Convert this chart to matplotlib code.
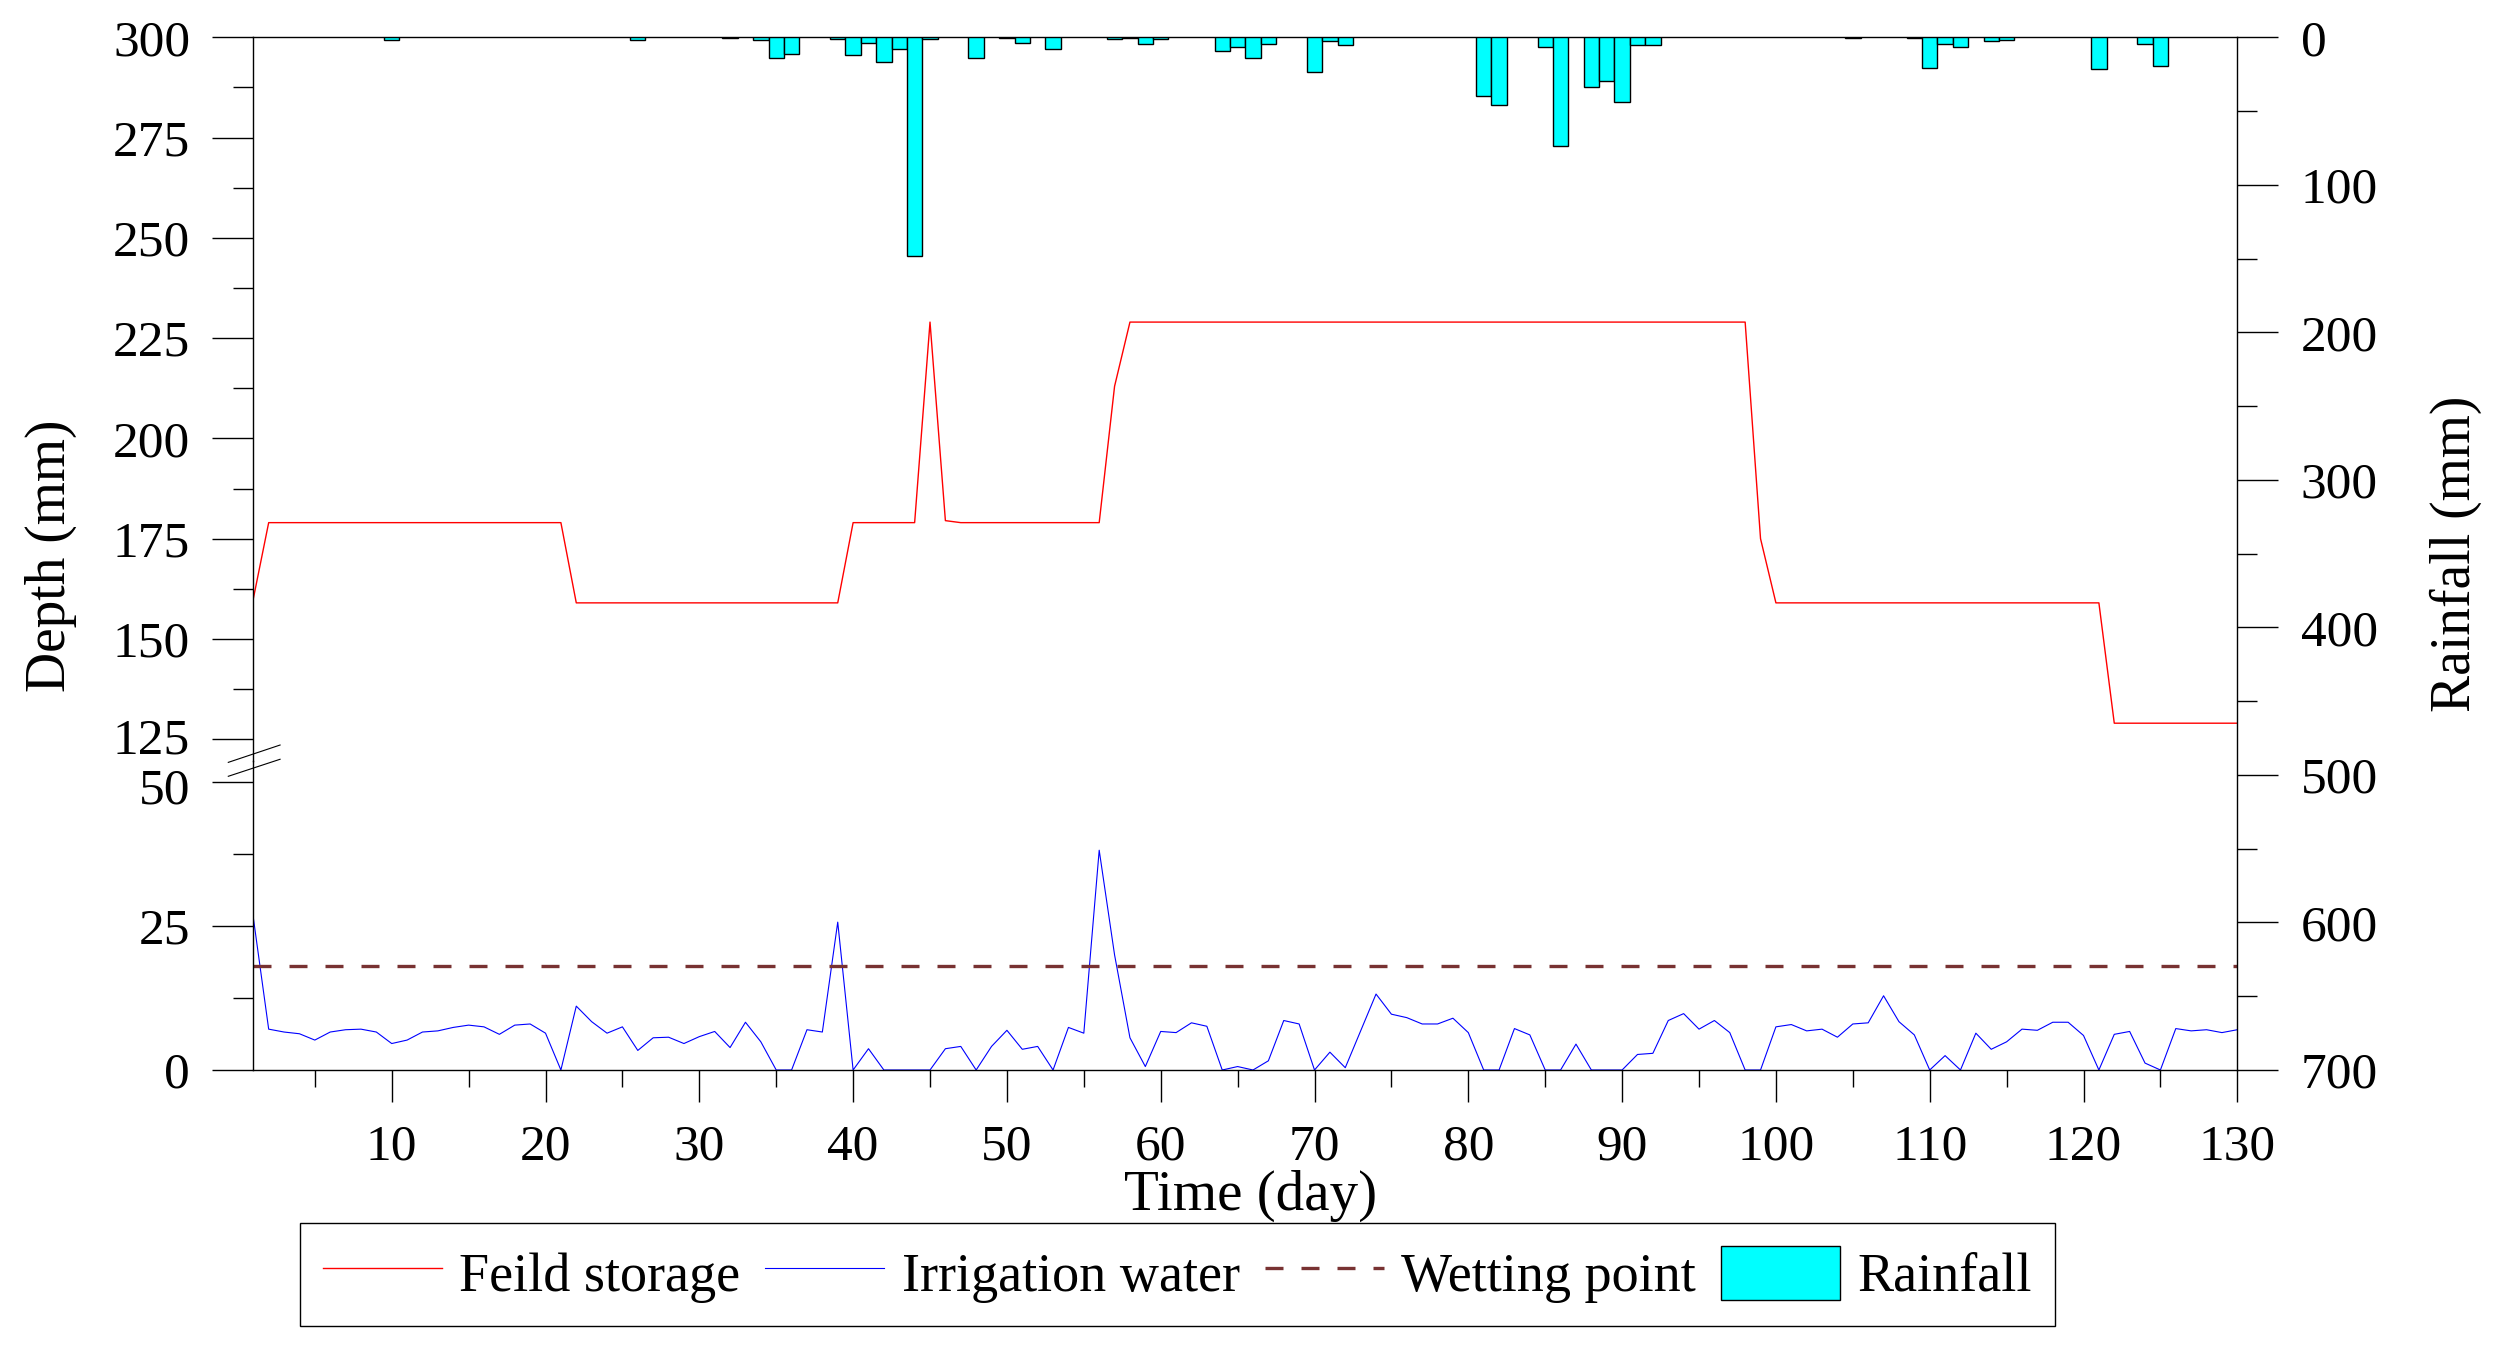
import matplotlib
matplotlib.use('Agg')
import matplotlib.pyplot as plt
import matplotlib.transforms as mtransforms
import numpy as np

plt.rcParams['font.family'] = ['Liberation Serif', 'DejaVu Serif']

# daily data, day 1 .. 130
days = np.arange(1, 131)

field_storage = [160, 179, 179, 179, 179, 179, 179, 179, 179, 179,
                 179, 179, 179, 179, 179, 179, 179, 179, 179, 179,
                 179, 159, 159, 159, 159, 159, 159, 159, 159, 159,
                 159, 159, 159, 159, 159, 159, 159, 159, 159, 179,
                 179, 179, 179, 179, 229, 179.5, 179, 179, 179, 179,
                 179, 179, 179, 179, 179, 179, 213, 229, 229, 229,
                 229, 229, 229, 229, 229, 229, 229, 229, 229, 229,
                 229, 229, 229, 229, 229, 229, 229, 229, 229, 229,
                 229, 229, 229, 229, 229, 229, 229, 229, 229, 229,
                 229, 229, 229, 229, 229, 229, 229, 229, 175, 159,
                 159, 159, 159, 159, 159, 159, 159, 159, 159, 159,
                 159, 159, 159, 159, 159, 159, 159, 159, 159, 159,
                 159, 129, 129, 129, 129, 129, 129, 129, 129, 129]

irrigation = [26.5, 7.1, 6.6, 6.3, 5.2, 6.6, 7.0, 7.1, 6.6, 4.6,
              5.2, 6.6, 6.8, 7.4, 7.8, 7.5, 6.2, 7.8, 8.0, 6.4,
              0, 11.1, 8.4, 6.4, 7.5, 3.4, 5.6, 5.7, 4.6, 5.8,
              6.7, 3.9, 8.3, 4.9, 0, 0, 7.0, 6.6, 25.7, 0,
              3.7, 0, 0, 0, 0, 3.7, 4.1, 0, 4.1, 6.9,
              3.6, 4.1, 0, 7.4, 6.4, 38.2, 20.0, 5.6, 0.6, 6.7,
              6.5, 8.2, 7.6, 0, 0.6, 0, 1.6, 8.6, 8.0, 0,
              3.1, 0.4, 6.8, 13.2, 9.7, 9.1, 8.0, 8.0, 9.0, 6.5,
              0, 0, 7.2, 6.1, 0, 0, 4.5, 0, 0, 0,
              2.7, 2.9, 8.6, 9.8, 7.1, 8.6, 6.5, 0, 0, 7.5,
              7.9, 6.8, 7.1, 5.7, 8.0, 8.2, 12.9, 8.4, 6.1, 0,
              2.5, 0, 6.4, 3.6, 4.9, 7.1, 6.9, 8.3, 8.3, 6.0,
              0, 6.2, 6.7, 1.2, 0, 7.2, 6.8, 7.0, 6.5, 7.0]

wetting_point = 18

rain_days = [10, 26, 32, 34, 35, 36, 39, 40, 41, 42, 43, 44, 45, 48, 50, 51,
             53, 57, 58, 59, 60, 64, 65, 66, 67, 70, 71, 72, 81, 82, 85, 86,
             88, 89, 90, 91, 92, 105, 109, 110, 111, 112, 114, 115, 121, 124, 125]
rain_mm = [2, 2, 0.8, 2, 13.7, 11.4, 1.3, 12.3, 4, 16.8, 8, 148, 1.3, 13.7, 0.8, 3.6,
           7.6, 1.3, 0.8, 4.3, 1.3, 9.6, 6.3, 13.7, 4.3, 23.6, 2.2, 4.9, 40, 46, 6.3, 74,
           33.7, 29.6, 43.8, 5.4, 5.4, 0.8, 0.8, 21, 4.7, 6.3, 2.2, 1.6, 21.8, 4.7, 19.7]

fig = plt.figure(figsize=(24.97, 13.48), dpi=100)

# axes frame (figure fractions)
L, R = 0.10144, 0.89600
B, T = 0.20623, 0.97233
S = 0.43583  # where the left axis is broken

ax_top = fig.add_axes([L, S, R - L, T - S])
ax_bot = fig.add_axes([L, B, R - L, S - B])
ax_r = fig.add_axes([L, B, R - L, T - B], facecolor='none')

lw = 1.0
tick_fs = 37

# upper part of depth axis
h_fs, = ax_top.plot(days, field_storage, color='#FF0000', lw=1.0)
ax_top.set_xlim(1, 130)
ax_top.set_ylim(119.7, 300)
ax_top.set_yticks(np.arange(125, 301, 25))
ax_top.set_yticks(np.arange(137.5, 300, 25), minor=True)
ax_top.tick_params(axis='x', which='both', bottom=False, labelbottom=False)
ax_top.spines['bottom'].set_visible(False)
ax_top.spines['right'].set_visible(False)

# lower part of depth axis
h_irr, = ax_bot.plot(days, irrigation, color='#0000FF', lw=0.8)
h_wp, = ax_bot.plot(days, [wetting_point] * len(days), color='#783232', lw=2.4,
                    linestyle=(0, (5.4, 5.4)))
ax_bot.set_xlim(1, 130)
ax_bot.set_ylim(0, 53.79)
ax_bot.set_yticks([0, 25, 50])
ax_bot.set_yticks([12.5, 37.5], minor=True)
ax_bot.set_xticks(np.arange(10, 131, 10))
ax_bot.set_xticks(np.arange(5, 130, 10), minor=True)
ax_bot.spines['top'].set_visible(False)
ax_bot.spines['right'].set_visible(False)
ax_bot.tick_params(axis='x', which='major', direction='out', length=23, width=lw,
                   labelsize=tick_fs, pad=16)
ax_bot.tick_params(axis='x', which='minor', direction='out', length=12.2, width=lw)

for ax in (ax_top, ax_bot):
    ax.tick_params(axis='y', which='major', direction='out', length=29.5, width=lw,
                   labelsize=tick_fs, pad=16)
    ax.tick_params(axis='y', which='minor', direction='out', length=14.4, width=lw)
    ax.patch.set_visible(False)

# rainfall on the right, hanging from the top
h_rain = ax_r.bar(rain_days, rain_mm, width=1.0, color='#00FFFF',
                  edgecolor='black', linewidth=1.0)
ax_r.set_xlim(1, 130)
ax_r.set_ylim(700, 0)
ax_r.yaxis.tick_right()
ax_r.yaxis.set_label_position('right')
ax_r.set_yticks(np.arange(0, 701, 100))
ax_r.set_yticks(np.arange(50, 700, 100), minor=True)
ax_r.tick_params(axis='x', which='both', bottom=False, labelbottom=False)
ax_r.tick_params(axis='y', which='major', direction='out', length=29.5, width=lw,
                 labelsize=tick_fs, pad=16)
ax_r.tick_params(axis='y', which='minor', direction='out', length=14.4, width=lw)
for side in ('left', 'bottom', 'top'):
    ax_r.spines[side].set_visible(False)

for ax in (ax_top, ax_bot, ax_r):
    for sp in ax.spines.values():
        sp.set_linewidth(lw)

# break marks on the left axis
kw = dict(transform=ax_bot.transAxes, color='black', lw=0.8, clip_on=False)
ax_bot.plot([-0.0126, 0.0135], [0.994, 1.050], **kw)
ax_bot.plot([-0.0126, 0.0135], [0.949, 1.004], **kw)

# nudge the two labels next to the break apart a little
up = mtransforms.ScaledTranslation(0, 2.5 / 72, fig.dpi_scale_trans)
down = mtransforms.ScaledTranslation(0, -2.5 / 72, fig.dpi_scale_trans)
lab125 = ax_top.yaxis.get_major_ticks()[0].label1
lab125.set_transform(lab125.get_transform() + up)
lab50 = ax_bot.yaxis.get_major_ticks()[-1].label1
lab50.set_transform(lab50.get_transform() + down)

# axis labels
ax_top.set_ylabel('Depth (mm)', fontsize=40)
ax_top.yaxis.set_label_coords(-0.089, 0.283)
ax_r.set_ylabel('Rainfall (mm)', fontsize=40)
ax_r.yaxis.set_label_coords(1.097, 0.5)
ax_bot.set_xlabel('Time (day)', fontsize=41)
ax_bot.xaxis.set_label_coords(0.5024, -0.322)

leg = fig.legend([h_fs, h_irr, h_wp, h_rain],
                 ['Feild storage', 'Irrigation water', 'Wetting point', 'Rainfall'],
                 loc='upper left', bbox_to_anchor=(0.12014, 0.09273), ncol=4,
                 fontsize=39, frameon=True, fancybox=False, edgecolor='black',
                 framealpha=1, handlelength=2.2, handleheight=1.15,
                 handletextpad=0.32, columnspacing=0.46, borderpad=0.42,
                 borderaxespad=0)
leg.get_frame().set_linewidth(lw)

fig.savefig('out.png', dpi=100)
